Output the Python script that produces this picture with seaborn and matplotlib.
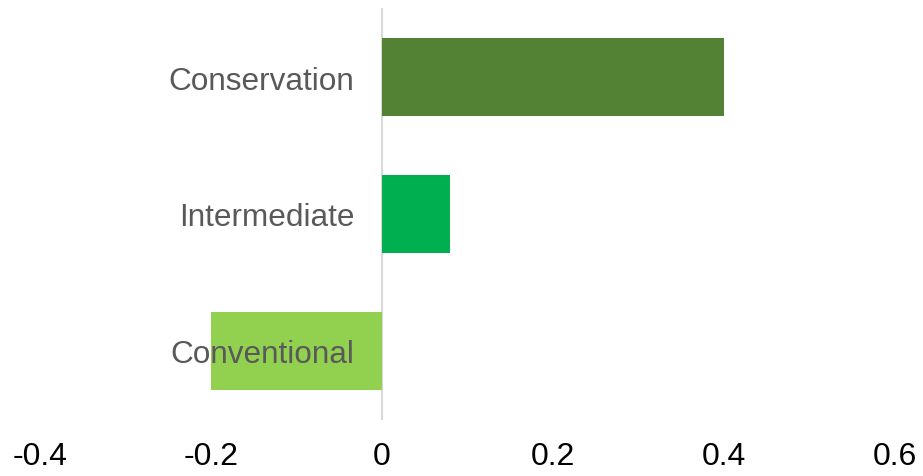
import matplotlib
matplotlib.use("Agg")
import matplotlib.pyplot as plt
import seaborn as sns
import pandas as pd
from matplotlib import font_manager

categories = ["Conservation", "Intermediate", "Conventional"]
values = [0.40, 0.08, -0.20]
colors = ["#548235", "#00B050", "#92D050"]
xticks = [-0.4, -0.2, 0, 0.2, 0.4, 0.6]
xtick_labels = ["-0.4", "-0.2", "0", "0.2", "0.4", "0.6"]

sns.set_theme(style="white")
plt.rcParams['font.family'] = ['Liberation Sans', 'DejaVu Sans']

names = {f.name for f in font_manager.fontManager.ttflist}
narrow = 'Liberation Sans Narrow' if 'Liberation Sans Narrow' in names else 'Liberation Sans'

df = pd.DataFrame({"category": categories, "value": values})

fig = plt.figure(figsize=(9.23, 4.77), dpi=100)
ax = fig.add_axes([40/923, (477-420)/477, (895-40)/923, 410/477])

sns.barplot(data=df, x="value", y="category", hue="category", order=categories,
            palette=colors, orient="h", width=0.57, legend=False, ax=ax,
            saturation=1, edgecolor="none")

ax.set_xlim(-0.4, 0.6)
ax.set_ylim(2.5, -0.5)
ax.set_xticks(xticks)
ax.set_xticklabels(xtick_labels, fontsize=23, color="black", family=[narrow, 'DejaVu Sans'])
ax.set_xlabel("")
ax.set_ylabel("")

for s in ["top", "right", "bottom"]:
    ax.spines[s].set_visible(False)
ax.spines["left"].set_position(("data", 0))
ax.spines["left"].set_color("#D9D9D9")
ax.spines["left"].set_linewidth(1.5)
ax.spines["left"].set_zorder(0.5)

ax.tick_params(axis="y", length=0, pad=20, labelsize=22.7, labelcolor="#595959")
ax.tick_params(axis="x", length=0, pad=16)
ax.yaxis.set_zorder(5)
ax.grid(False)

fig.savefig("out.png", dpi=100)
